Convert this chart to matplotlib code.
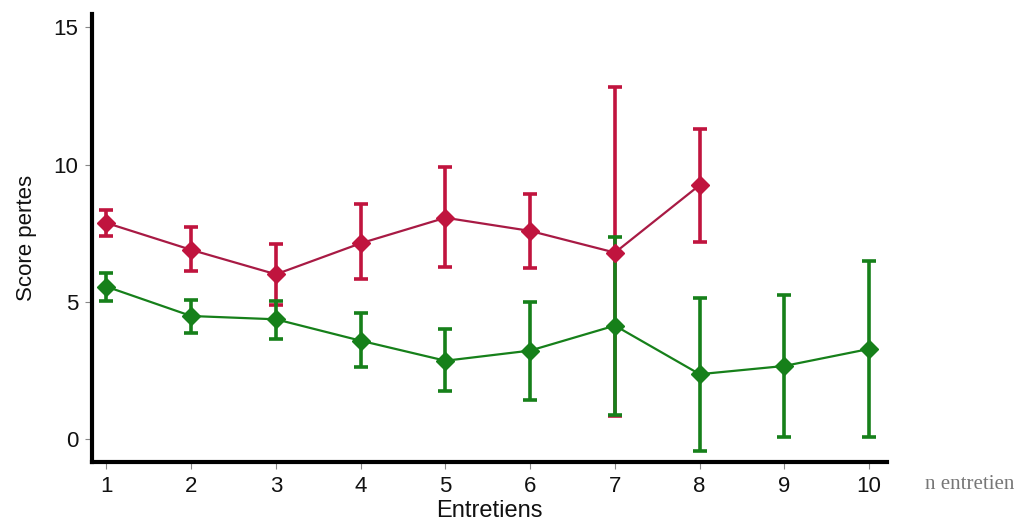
import matplotlib
matplotlib.use("Agg")
import matplotlib.pyplot as plt
import numpy as np

# Data
entretiens = [1, 2, 3, 4, 5, 6, 7, 8, 9, 10]

red_x = [1, 2, 3, 4, 5, 6, 7, 8]
red_mean = [7.87, 6.89, 6.00, 7.13, 8.06, 7.58, 6.79, 9.25]
red_upper = [8.34, 7.71, 7.11, 8.55, 9.92, 8.94, 12.81, 11.30]
red_lower = [7.40, 6.11, 4.88, 5.83, 6.28, 6.22, 0.84, 7.18]

green_x = [1, 2, 3, 4, 5, 6, 7, 8, 9, 10]
green_mean = [5.55, 4.48, 4.36, 3.58, 2.85, 3.22, 4.13, 2.36, 2.66, 3.28]
green_upper = [6.04, 5.05, 5.04, 4.58, 4.01, 5.00, 7.37, 5.15, 5.25, 6.50]
green_lower = [5.04, 3.87, 3.63, 2.63, 1.76, 1.42, 0.87, -0.43, 0.07, 0.06]

yticks = [0, 5, 10, 15]
xlabel = "Entretiens"
ylabel = "Score pertes"
note = "n entretien"

RED = "#c0143e"
RED_LINE = "#a81a44"
GREEN = "#16801a"

plt.rcParams['font.family'] = ['Liberation Sans', 'DejaVu Sans']

fig = plt.figure(figsize=(10.16, 5.22), dpi=100)
ax = fig.add_axes([0.0906, 0.1149, 0.7824, 0.8581])


def draw(x, m, lo, hi, col, lcol):
    m = np.array(m)
    yerr = np.vstack([m - np.array(lo), np.array(hi) - m])
    ax.plot(x, m, color=lcol, lw=1.6, zorder=2)
    ax.errorbar(x, m, yerr=yerr, fmt='none', ecolor=col, elinewidth=2.6,
                capsize=5.0, capthick=2.6, zorder=3)
    ax.plot(x, m, linestyle='none', marker='D', markersize=9.5,
            color=col, markeredgecolor=col, zorder=4)


draw(red_x, red_mean, red_lower, red_upper, RED, RED_LINE)
draw(green_x, green_mean, green_lower, green_upper, GREEN, GREEN)

ax.set_xlim(0.83, 10.21)
ax.set_ylim(-0.84, 15.48)
ax.set_xticks(entretiens)
ax.set_xticklabels([str(v) for v in entretiens])
ax.set_yticks(yticks)
ax.set_yticklabels([str(v) for v in yticks])

for s in ['top', 'right']:
    ax.spines[s].set_visible(False)
for s in ['left', 'bottom']:
    ax.spines[s].set_linewidth(3.0)
    ax.spines[s].set_color('black')

ax.tick_params(axis='both', direction='out', length=5, width=0.8,
               color='#888888', labelsize=16, labelcolor='#111111', pad=5)

ax.set_xlabel(xlabel, fontsize=17, color='#111111', labelpad=2)
ax.set_ylabel(ylabel, fontsize=16, color='#111111', labelpad=12)

fig.text(0.9105, 0.072, note, fontsize=15, color='#777777',
         family=['Liberation Serif', 'DejaVu Serif'], va='center', ha='left')

fig.savefig("out.png", dpi=100, facecolor='white')
